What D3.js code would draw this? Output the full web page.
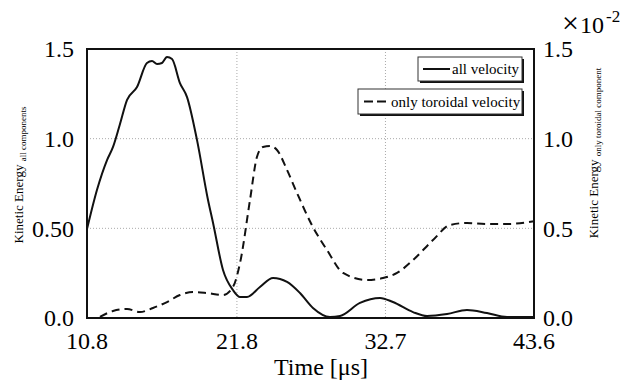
<!DOCTYPE html>
<html>
<head>
<meta charset="utf-8">
<script src="https://cdn.jsdelivr.net/npm/d3@7"></script>
<style>
  body { margin: 0; background: #fff; }
  svg { display: block; }
</style>
</head>
<body>
<svg width="626" height="383"></svg>
<script>
// time in microseconds
var allTime = [10.8, 11.53, 12.27, 12.71, 13.2, 13.74, 14.47, 15.2, 15.57, 15.94, 16.3, 16.67, 17.04, 17.62, 18.14, 18.87, 19.68, 20.05, 20.78, 21.51, 22.03, 22.54, 23.49, 24.45, 25.48, 26.43, 27.38, 28.63, 29.37, 30.83, 32.3, 33.25, 34.72, 35.75, 37.22, 38.68, 40.15, 41.62, 43.6];
var allValue = [0.496, 0.714, 0.881, 0.954, 1.076, 1.216, 1.288, 1.422, 1.433, 1.416, 1.422, 1.455, 1.444, 1.31, 1.232, 0.993, 0.658, 0.53, 0.268, 0.156, 0.117, 0.117, 0.173, 0.223, 0.201, 0.139, 0.056, 0.006, 0.011, 0.084, 0.112, 0.089, 0.033, 0.011, 0.022, 0.045, 0.028, 0.006, 0.006];

// toroidal component, x1e-2
var torTime = [11.75, 12.71, 13.74, 14.69, 15.64, 16.67, 17.62, 18.58, 19.61, 20.78, 21.51, 22.03, 22.76, 23.27, 23.71, 24.23, 24.74, 25.48, 26.21, 27.38, 28.41, 29.59, 31.35, 32.52, 33.55, 34.72, 36.19, 37.44, 38.68, 40.15, 41.62, 43.6];
var torValue = [0.006, 0.039, 0.05, 0.033, 0.056, 0.089, 0.128, 0.145, 0.139, 0.128, 0.173, 0.307, 0.658, 0.898, 0.954, 0.959, 0.937, 0.825, 0.697, 0.507, 0.379, 0.251, 0.212, 0.223, 0.251, 0.323, 0.435, 0.519, 0.53, 0.524, 0.524, 0.54];

var xTicks = [10.8, 21.8, 32.7, 43.6];
var leftTicks = [0, 0.5, 1.0, 1.5];
var leftTickLabels = ["0.0", "0.50", "1.0", "1.5"];
var rightTickLabels = ["0.0", "0.5", "1.0", "1.5"];
var legendLabels = ["all velocity", "only toroidal velocity"];

var svg = d3.select("svg")
    .attr("font-family", "'Liberation Serif', 'Times New Roman', Times, serif");
var pLeft = 87, pRight = 534, pTop = 49, pBottom = 318;

var x = d3.scaleLinear().domain([10.8, 43.6]).range([pLeft, pRight]);
var yL = d3.scaleLinear().domain([0, 1.5]).range([pBottom, pTop]);
var yR = d3.scaleLinear().domain([0, 1.5]).range([pBottom, pTop]);

// dotted grid
svg.append("g").selectAll("line")
    .data(xTicks.slice(1, 3))
    .enter().append("line")
    .attr("x1", function (d) { return x(d); })
    .attr("x2", function (d) { return x(d); })
    .attr("y1", pTop).attr("y2", pBottom)
    .attr("stroke", "#aaa").attr("stroke-width", 1)
    .attr("stroke-dasharray", "1,2");

svg.append("g").selectAll("line")
    .data(leftTicks.slice(1, 3))
    .enter().append("line")
    .attr("y1", function (d) { return yL(d); })
    .attr("y2", function (d) { return yL(d); })
    .attr("x1", pLeft).attr("x2", pRight)
    .attr("stroke", "#aaa").attr("stroke-width", 1)
    .attr("stroke-dasharray", "1,2");

// curves
var lineAll = d3.line()
    .x(function (d, i) { return x(allTime[i]); })
    .y(function (d) { return yL(d); })
    .curve(d3.curveMonotoneX);

var lineTor = d3.line()
    .x(function (d, i) { return x(torTime[i]); })
    .y(function (d) { return yR(d); })
    .curve(d3.curveMonotoneX);

svg.append("path")
    .attr("d", lineAll(allValue))
    .attr("fill", "none").attr("stroke", "#111").attr("stroke-width", 2);

svg.append("path")
    .attr("d", lineTor(torValue))
    .attr("fill", "none").attr("stroke", "#111").attr("stroke-width", 2)
    .attr("stroke-dasharray", "8,5");

// frame
svg.append("rect")
    .attr("x", pLeft).attr("y", pTop)
    .attr("width", pRight - pLeft).attr("height", pBottom - pTop)
    .attr("fill", "none").attr("stroke", "#111").attr("stroke-width", 2);

// tick labels
svg.append("g").selectAll("text")
    .data(leftTicks)
    .enter().append("text")
    .attr("x", pLeft - 13)
    .attr("y", function (d) { return yL(d); })
    .attr("dy", "0.35em")
    .attr("text-anchor", "end")
    .attr("font-size", 24)
    .text(function (d, i) { return leftTickLabels[i]; });

svg.append("g").selectAll("text")
    .data(leftTicks)
    .enter().append("text")
    .attr("x", pRight + 9)
    .attr("y", function (d) { return yR(d); })
    .attr("dy", "0.35em")
    .attr("text-anchor", "start")
    .attr("font-size", 24)
    .text(function (d, i) { return rightTickLabels[i]; });

svg.append("g").selectAll("text")
    .data(xTicks)
    .enter().append("text")
    .attr("x", function (d) { return x(d); })
    .attr("y", 349)
    .attr("text-anchor", "middle")
    .attr("font-size", 24)
    .text(function (d) { return d.toFixed(1); });

// axis titles
svg.append("text")
    .attr("x", 321).attr("y", 375)
    .attr("text-anchor", "middle")
    .attr("font-size", 24)
    .text("Time [\u03bcs]");

var tl = svg.append("text")
    .attr("transform", "translate(23,175) rotate(-90)")
    .attr("text-anchor", "middle")
    .attr("font-size", 13);
tl.append("tspan").text("Kinetic Energy ");
tl.append("tspan").attr("font-size", 9).attr("dy", 3).text("all components");

var tr = svg.append("text")
    .attr("transform", "translate(598,153) rotate(-90)")
    .attr("text-anchor", "middle")
    .attr("font-size", 13);
tr.append("tspan").text("Kinetic Energy ");
tr.append("tspan").attr("font-size", 9).attr("dy", 3).text("only toroidal component");

// exponent of right axis
svg.append("text")
    .attr("x", 562).attr("y", 33)
    .attr("font-size", 30)
    .text("\u00d7");
svg.append("text")
    .attr("x", 580).attr("y", 33)
    .attr("font-size", 24)
    .text("10");
svg.append("text")
    .attr("x", 606).attr("y", 22)
    .attr("font-size", 17)
    .text("-2");

// legend
var legendBoxes = [
    { x0: 418, y0: 57, w: 104, h: 24 },
    { x0: 358, y0: 89, w: 164, h: 25 }
];
var lg = svg.append("g").selectAll("g")
    .data(legendLabels)
    .enter().append("g")
    .attr("transform", function (d, i) {
        return "translate(" + legendBoxes[i].x0 + "," + legendBoxes[i].y0 + ")";
    });

lg.append("rect")
    .attr("x", 2).attr("y", 2)
    .attr("width", function (d, i) { return legendBoxes[i].w; })
    .attr("height", function (d, i) { return legendBoxes[i].h; })
    .attr("fill", "#111");
lg.append("rect")
    .attr("width", function (d, i) { return legendBoxes[i].w; })
    .attr("height", function (d, i) { return legendBoxes[i].h; })
    .attr("fill", "#fff").attr("stroke", "#333").attr("stroke-width", 1);
lg.append("line")
    .attr("x1", function (d, i) { return i == 0 ? 5 : 6; })
    .attr("x2", function (d, i) { return i == 0 ? 32 : 30; })
    .attr("y1", function (d, i) { return legendBoxes[i].h / 2; })
    .attr("y2", function (d, i) { return legendBoxes[i].h / 2; })
    .attr("stroke", "#111").attr("stroke-width", 2)
    .attr("stroke-dasharray", function (d, i) { return i == 0 ? null : "9,4"; });
lg.append("text")
    .attr("x", function (d, i) { return i == 0 ? 34 : 33; })
    .attr("y", function (d, i) { return legendBoxes[i].h / 2; })
    .attr("dy", "0.35em")
    .attr("font-size", 15)
    .text(function (d) { return d; });
</script>
</body>
</html>
